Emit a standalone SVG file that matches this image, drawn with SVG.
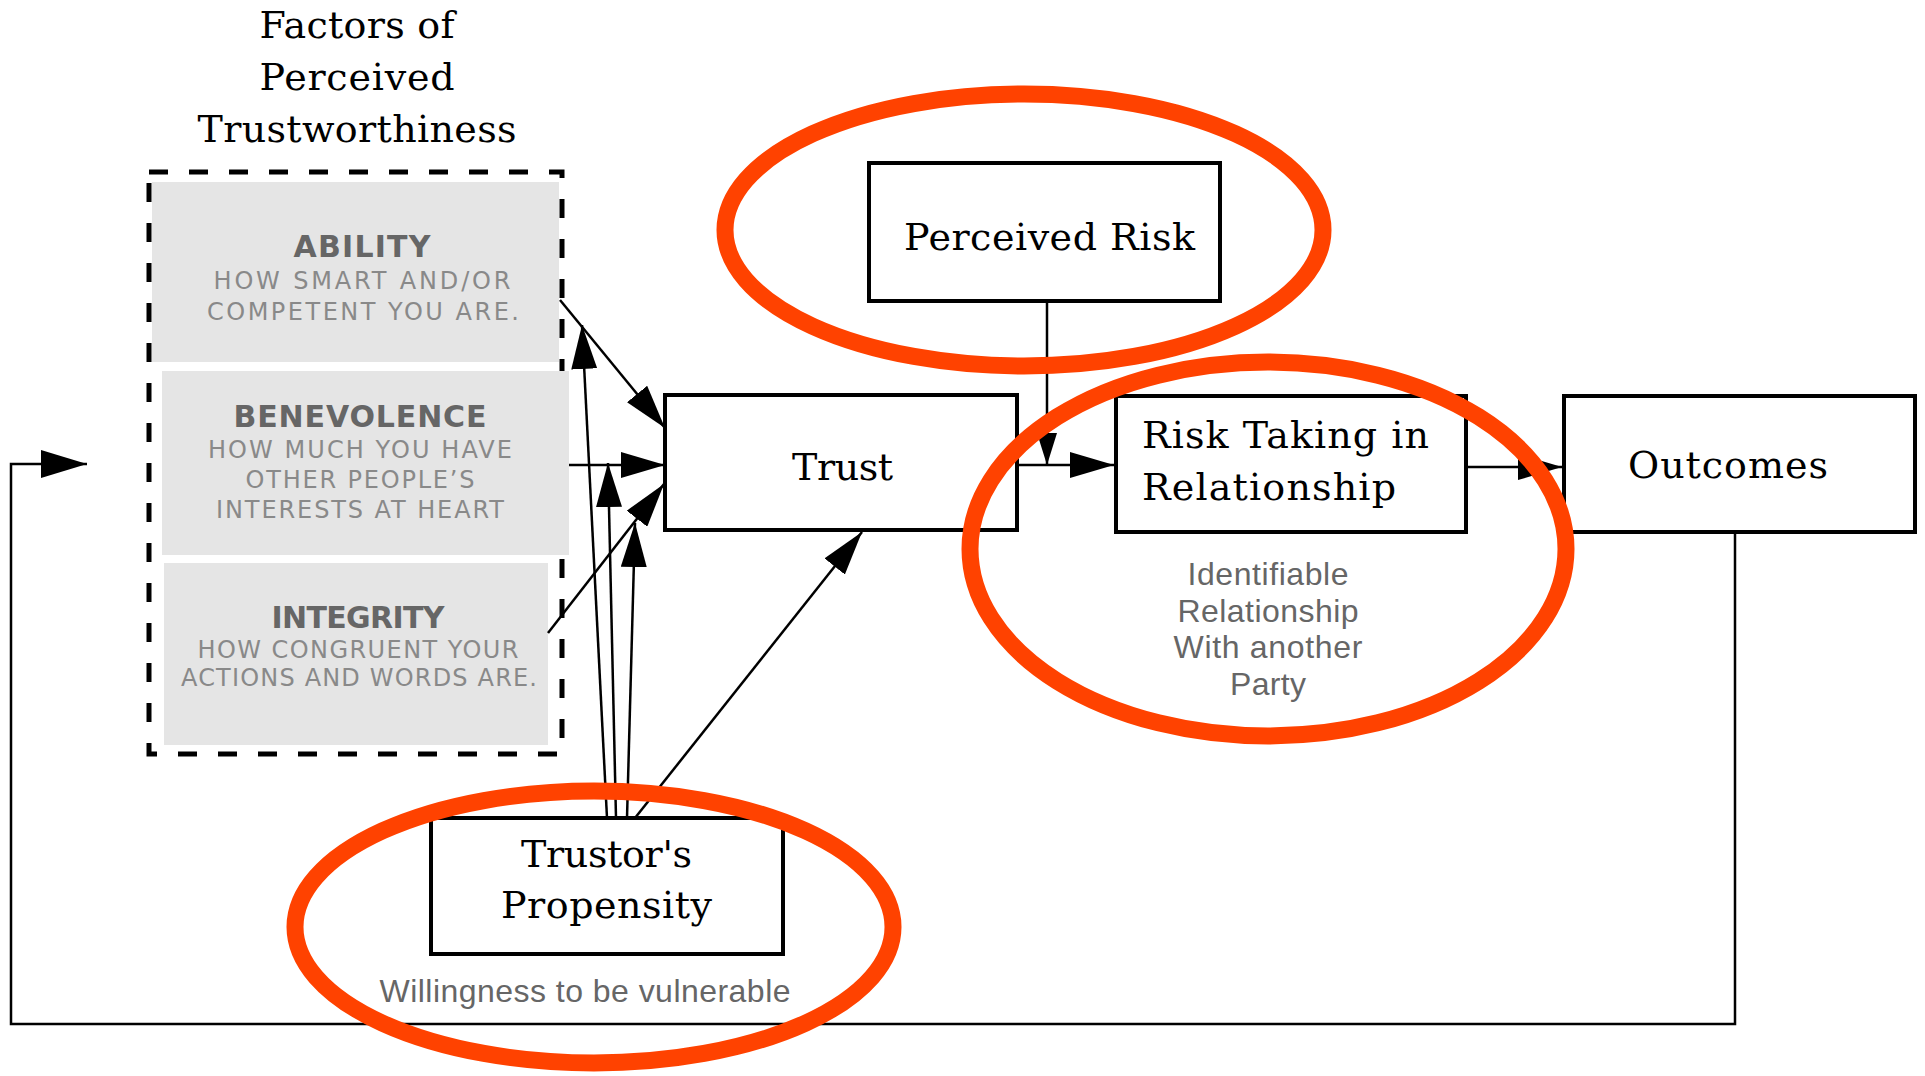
<svg xmlns="http://www.w3.org/2000/svg" width="1925" height="1076" viewBox="0 0 1925 1076">
<style>
.bg{fill:#ffffff}
.box{fill:#ffffff;stroke:#000;stroke-width:4}
.gray{fill:#e5e5e5}
.dash{fill:none;stroke:#000;stroke-width:5;stroke-dasharray:19 21}
.serif{font-family:"DejaVu Serif","Liberation Serif",serif;font-size:38px;fill:#000}
.head{font-family:"DejaVu Sans","Liberation Sans",sans-serif;font-weight:bold;font-size:30px;fill:#666;text-anchor:middle}
.desc{font-family:"DejaVu Sans","Liberation Sans",sans-serif;font-size:24px;fill:#898989;text-anchor:middle}
.note{font-family:"Liberation Sans",Arial,sans-serif;font-size:32px;fill:#666;text-anchor:middle}
.ln{fill:none;stroke:#000;stroke-width:2.5}
.ring{fill:none;stroke:#ff4200;stroke-width:17}
</style>
<defs>
<marker id="ah" markerUnits="userSpaceOnUse" viewBox="0 0 44 26" markerWidth="44" markerHeight="26" refX="44" refY="13" orient="auto"><path d="M0,0 L44,13 L0,26 z" fill="#000"/></marker>
<marker id="ahs" markerUnits="userSpaceOnUse" viewBox="0 0 32 20" markerWidth="32" markerHeight="20" refX="32" refY="10" orient="auto"><path d="M0,0 L32,10 L0,20 z" fill="#000"/></marker>
<marker id="ahl" markerUnits="userSpaceOnUse" viewBox="0 0 46 28" markerWidth="46" markerHeight="28" refX="46" refY="14" orient="auto"><path d="M0,0 L46,14 L0,28 z" fill="#000"/></marker>
</defs>
<rect class="bg" x="0" y="0" width="1925" height="1076"/>

<g id="factors">
<text class="serif" x="357" y="38" text-anchor="middle" textLength="195">Factors of</text>
<text class="serif" x="357" y="90" text-anchor="middle" textLength="195">Perceived</text>
<text class="serif" x="357" y="142" text-anchor="middle" textLength="319">Trustworthiness</text>
<rect class="dash" x="149" y="172" width="413" height="582"/>
</g>

<g id="ability">
<rect class="gray" x="152" y="182" width="407" height="180"/>
<text class="head" x="362" y="257" textLength="137">ABILITY</text>
<text class="desc" x="362" y="289" textLength="297">HOW SMART AND/OR</text>
<text class="desc" x="363" y="320" textLength="312">COMPETENT YOU ARE.</text>
</g>

<g id="benevolence">
<rect class="gray" x="162" y="371" width="407" height="184"/>
<text class="head" x="360" y="427" textLength="253">BENEVOLENCE</text>
<text class="desc" x="360" y="458" textLength="304">HOW MUCH YOU HAVE</text>
<text class="desc" x="360" y="488" textLength="229">OTHER PEOPLE’S</text>
<text class="desc" x="360" y="518" textLength="288">INTERESTS AT HEART</text>
</g>

<g id="integrity">
<rect class="gray" x="164" y="563" width="384" height="182"/>
<text class="head" x="358" y="628" textLength="173">INTEGRITY</text>
<text class="desc" x="358" y="658" textLength="321">HOW CONGRUENT YOUR</text>
<text class="desc" x="359" y="686" textLength="356">ACTIONS AND WORDS ARE.</text>
</g>

<g id="trust">
<rect class="box" x="665" y="395" width="352" height="135"/>
<text class="serif" x="792" y="480" textLength="101">Trust</text>
</g>

<g id="perceived-risk">
<rect class="box" x="869" y="163" width="351" height="138"/>
<text class="serif" x="904" y="250" textLength="291">Perceived Risk</text>
</g>

<g id="risk-taking">
<rect class="box" x="1116" y="396" width="350" height="136"/>
<text class="serif" x="1142" y="448" textLength="287">Risk Taking in</text>
<text class="serif" x="1142" y="500" textLength="254">Relationship</text>
<text class="note" x="1268" y="585" textLength="161">Identifiable</text>
<text class="note" x="1268" y="622" textLength="181">Relationship</text>
<text class="note" x="1268" y="658" textLength="189">With another</text>
<text class="note" x="1268" y="695" textLength="76">Party</text>
</g>

<g id="outcomes">
<rect class="box" x="1564" y="396" width="351" height="136"/>
<text class="serif" x="1628" y="478" textLength="200">Outcomes</text>
</g>

<g id="trustors-propensity">
<rect class="box" x="431" y="818" width="352" height="136"/>
<text class="serif" x="521" y="867" textLength="171">Trustor's</text>
<text class="serif" x="501" y="918" textLength="211">Propensity</text>
<text class="note" x="585" y="1002" textLength="411">Willingness to be vulnerable</text>
</g>

<g id="connectors">
<line class="ln" x1="560" y1="300" x2="665" y2="428" marker-end="url(#ah)"/>
<line class="ln" x1="569" y1="465" x2="665" y2="465" marker-end="url(#ah)"/>
<line class="ln" x1="548" y1="633" x2="664" y2="484" marker-end="url(#ah)"/>
<line class="ln" x1="607" y1="818" x2="582" y2="325" marker-end="url(#ah)"/>
<line class="ln" x1="616" y1="818" x2="608" y2="463" marker-end="url(#ah)"/>
<line class="ln" x1="627" y1="818" x2="635" y2="523" marker-end="url(#ah)"/>
<line class="ln" x1="635" y1="818" x2="862" y2="532" marker-end="url(#ah)"/>
<line class="ln" x1="1047" y1="301" x2="1047" y2="465" marker-end="url(#ahs)"/>
<line class="ln" x1="1017" y1="465" x2="1114" y2="465" marker-end="url(#ah)"/>
<line class="ln" x1="1466" y1="467" x2="1562" y2="467" marker-end="url(#ah)"/>
<path class="ln" d="M1735,532 L1735,1024 L11,1024 L11,464 L87,464" marker-end="url(#ahl)"/>
</g>

<g id="highlights">
<ellipse class="ring" cx="1024" cy="230" rx="299" ry="136"/>
<ellipse class="ring" cx="1268" cy="549" rx="298" ry="187"/>
<ellipse class="ring" cx="594" cy="927" rx="299" ry="136"/>
</g>
</svg>
